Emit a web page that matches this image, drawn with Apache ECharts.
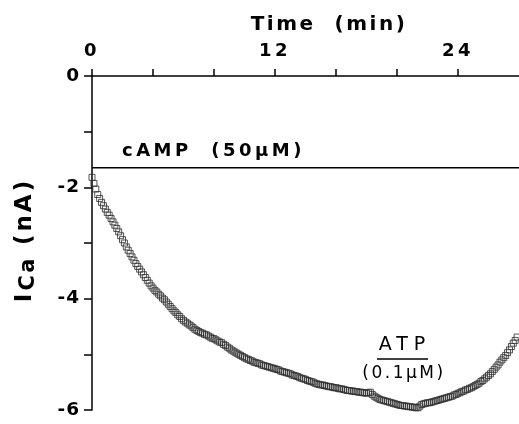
<!DOCTYPE html>
<html>
<head>
<meta charset="utf-8">
<script src="https://cdn.jsdelivr.net/npm/echarts@6/dist/echarts.min.js"></script>
<style>
html,body{margin:0;padding:0;background:#fff;}
#c{width:519px;height:424px;}
</style>
</head>
<body>
<div id="c"></div>
<script>
// Time (min)
var timeMin = [0,0.125,0.25,0.375,0.5,0.625,0.75,0.875,1,1.125,1.25,1.375,1.5,1.625,1.75,1.875,2,2.125,2.25,2.375,2.5,2.625,2.75,2.875,3,3.125,3.25,3.375,3.5,3.625,3.75,3.875,4,4.125,4.25,4.375,4.5,4.625,4.75,4.875,5,5.125,5.25,5.375,5.5,5.625,5.75,5.875,6,6.125,6.25,6.375,6.5,6.625,6.75,6.875,7,7.125,7.25,7.375,7.5,7.625,7.75,7.875,8,8.125,8.25,8.375,8.5,8.625,8.75,8.875,9,9.125,9.25,9.375,9.5,9.625,9.75,9.875,10,10.125,10.25,10.375,10.5,10.625,10.75,10.875,11,11.125,11.25,11.375,11.5,11.625,11.75,11.875,12,12.125,12.25,12.375,12.5,12.625,12.75,12.875,13,13.125,13.25,13.375,13.5,13.625,13.75,13.875,14,14.125,14.25,14.375,14.5,14.625,14.75,14.875,15,15.125,15.25,15.375,15.5,15.625,15.75,15.875,16,16.125,16.25,16.375,16.5,16.625,16.75,16.875,17,17.125,17.25,17.375,17.5,17.625,17.75,17.875,18,18.125,18.25,18.375,18.5,18.625,18.75,18.875,19,19.125,19.25,19.375,19.5,19.625,19.75,19.875,20,20.125,20.25,20.375,20.5,20.625,20.75,20.875,21,21.125,21.25,21.375,21.5,21.625,21.75,21.875,22,22.125,22.25,22.375,22.5,22.625,22.75,22.875,23,23.125,23.25,23.375,23.5,23.625,23.75,23.875,24,24.125,24.25,24.375,24.5,24.625,24.75,24.875,25,25.125,25.25,25.375,25.5,25.625,25.75,25.875,26,26.125,26.25,26.375,26.5,26.625,26.75,26.875,27,27.125,27.25,27.375,27.5,27.625,27.75,27.875];
// I_Ca (nA)
var iCa = [-1.82,-1.93,-2.03,-2.13,-2.2,-2.27,-2.33,-2.39,-2.45,-2.5,-2.56,-2.62,-2.68,-2.74,-2.8,-2.87,-2.94,-3.0,-3.07,-3.13,-3.19,-3.25,-3.31,-3.37,-3.42,-3.47,-3.52,-3.57,-3.62,-3.67,-3.72,-3.77,-3.81,-3.85,-3.88,-3.92,-3.95,-3.99,-4.02,-4.06,-4.1,-4.14,-4.18,-4.22,-4.25,-4.29,-4.32,-4.36,-4.39,-4.42,-4.44,-4.47,-4.49,-4.52,-4.55,-4.57,-4.59,-4.61,-4.62,-4.64,-4.65,-4.67,-4.69,-4.71,-4.72,-4.74,-4.76,-4.78,-4.79,-4.82,-4.84,-4.87,-4.89,-4.92,-4.94,-4.96,-4.98,-5.0,-5.02,-5.04,-5.06,-5.08,-5.09,-5.11,-5.12,-5.14,-5.15,-5.16,-5.17,-5.19,-5.2,-5.21,-5.22,-5.23,-5.24,-5.25,-5.26,-5.27,-5.28,-5.3,-5.31,-5.32,-5.33,-5.34,-5.35,-5.37,-5.38,-5.39,-5.4,-5.42,-5.43,-5.44,-5.45,-5.47,-5.48,-5.49,-5.5,-5.52,-5.53,-5.54,-5.55,-5.55,-5.56,-5.57,-5.58,-5.58,-5.59,-5.6,-5.6,-5.61,-5.62,-5.62,-5.63,-5.64,-5.65,-5.65,-5.66,-5.66,-5.67,-5.67,-5.68,-5.68,-5.69,-5.69,-5.7,-5.69,-5.68,-5.72,-5.75,-5.77,-5.79,-5.81,-5.82,-5.83,-5.84,-5.85,-5.86,-5.87,-5.88,-5.89,-5.9,-5.91,-5.92,-5.92,-5.93,-5.93,-5.94,-5.94,-5.95,-5.95,-5.96,-5.96,-5.93,-5.9,-5.89,-5.88,-5.87,-5.87,-5.86,-5.85,-5.84,-5.83,-5.82,-5.81,-5.8,-5.79,-5.78,-5.77,-5.76,-5.75,-5.73,-5.72,-5.7,-5.69,-5.67,-5.66,-5.64,-5.63,-5.61,-5.6,-5.58,-5.56,-5.54,-5.52,-5.49,-5.47,-5.44,-5.41,-5.38,-5.35,-5.31,-5.27,-5.23,-5.19,-5.14,-5.1,-5.06,-5.02,-4.97,-4.92,-4.86,-4.8,-4.75,-4.69];
// cAMP reference line level and span
var campLevel = [-1.65];
var campSpan = [0, 28];
var xTickLabels = [0, 12, 24];
var yTickLabels = [0, -2, -4, -6];

// letter spacing for the wide-set lettering of the original figure
(function () {
  var map = {b20: '2.5px', b18: '3.5px', 'b18.5': '1px', b21: '2.5px', b23: '3px', n19: '6px', n17: '2.5px'};
  function ls(font) {
    var m = /(\d+(?:\.\d+)?)px/.exec(font || '');
    var s = m ? m[1] : '12';
    var b = /bold|[6-9]00/.test(font || '');
    return map[(b ? 'b' : 'n') + s] || '0px';
  }
  var P = CanvasRenderingContext2D.prototype;
  var f = P.fillText, mt = P.measureText;
  P.fillText = function () { try { this.letterSpacing = ls(this.font); } catch (e) {} return f.apply(this, arguments); };
  P.measureText = function () { try { this.letterSpacing = ls(this.font); } catch (e) {} return mt.apply(this, arguments); };
})();

var FONT = 'DejaVu Sans';
var chart = echarts.init(document.getElementById('c'), null, {renderer: 'canvas'});
var pts = timeMin.map(function (t, i) { return [t, iCa[i]]; });

chart.setOption({
  animation: false,
  backgroundColor: '#fff',
  grid: {left: 92, top: 76, width: 430, height: 334},
  title: {
    text: 'Time  (min)', left: 324, top: 9, textAlign: 'center',
    textStyle: {fontFamily: FONT, fontSize: 20, fontWeight: 'bold', color: '#000'}
  },
  xAxis: {
    type: 'value', position: 'top', min: 0, max: 28, interval: 4,
    axisLine: {lineStyle: {color: '#000', width: 1.5}},
    axisTick: {length: 7, lineStyle: {color: '#000', width: 1.5}},
    splitLine: {show: false},
    axisLabel: {
      showMaxLabel: false, margin: 14,
      fontFamily: FONT, fontSize: 18, fontWeight: 'bold', color: '#000',
      formatter: function (v) { return xTickLabels.indexOf(v) >= 0 ? String(v) : ''; }
    }
  },
  yAxis: {
    type: 'value', min: -6, max: 0, interval: 1,
    axisLine: {onZero: false, lineStyle: {color: '#000', width: 1.5}},
    axisTick: {length: 8, lineStyle: {color: '#000', width: 1.5}},
    splitLine: {show: false},
    axisLabel: {
      margin: 12,
      fontFamily: FONT, fontSize: 18.5, fontWeight: 'bold', color: '#000',
      formatter: function (v) { return yTickLabels.indexOf(v) >= 0 ? String(v) : ''; }
    }
  },
  series: [
    {
      type: 'line',
      data: campSpan.map(function (t) { return [t, campLevel[0]]; }),
      showSymbol: false,
      lineStyle: {color: '#000', width: 1.5},
      silent: true
    },
    {
      type: 'scatter',
      data: pts,
      symbol: 'rect',
      symbolSize: 6,
      itemStyle: {color: 'rgba(0,0,0,0)', borderColor: '#2a2a2a', borderWidth: 1},
      silent: true
    }
  ],
  graphic: [
    {type: 'text', x: 26, y: 240, rotation: Math.PI / 2,
     style: {
       text: '{a|I}{b|Ca}{c| (nA)}', align: 'center', verticalAlign: 'middle',
       rich: {
         a: {font: 'bold 23px "DejaVu Sans"', fill: '#000', lineHeight: 28, verticalAlign: 'top'},
         b: {font: 'bold 21px "DejaVu Sans"', fill: '#000', lineHeight: 28, verticalAlign: 'bottom'},
         c: {font: 'bold 23px "DejaVu Sans"', fill: '#000', lineHeight: 28, verticalAlign: 'top'}
       }
     }},
    {type: 'text', left: 122, top: 141,
     style: {text: 'cAMP  (50\u00b5M)', font: 'bold 18px "DejaVu Sans"', fill: '#000'}},
    {type: 'text', x: 405, y: 345,
     style: {text: 'ATP', font: '19px "DejaVu Sans"', fill: '#000', align: 'center', verticalAlign: 'middle'}},
    {type: 'line', shape: {x1: 377, y1: 359, x2: 428, y2: 359}, style: {stroke: '#000', lineWidth: 1.5}},
    {type: 'text', x: 404, y: 374,
     style: {text: '(0.1\u00b5M)', font: '17px "DejaVu Sans"', fill: '#000', align: 'center', verticalAlign: 'middle'}}
  ]
});
</script>
</body>
</html>
